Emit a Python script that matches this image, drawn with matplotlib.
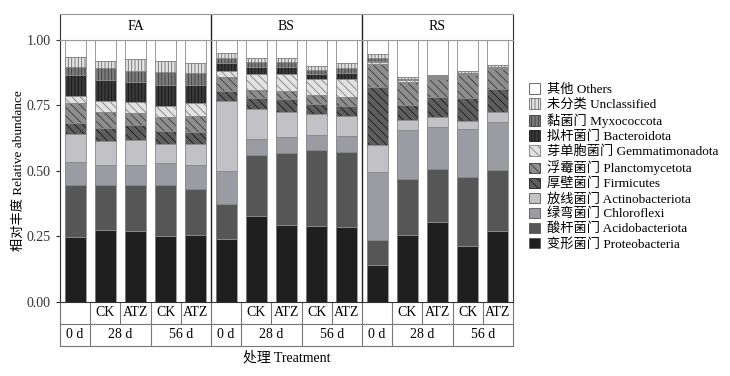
import matplotlib.pyplot as plt
from matplotlib.patches import Patch
from matplotlib.transforms import blended_transform_factory
import numpy as np

plt.rcParams['font.family'] = ['Liberation Serif', 'Noto Sans CJK SC']
plt.rcParams['hatch.linewidth'] = 0.6

sites = ['FA', 'BS', 'RS']
treat = ['', 'CK', 'ATZ', 'CK', 'ATZ']
days = ['0 d', '28 d', '56 d']

phyla = ['变形菌门 Proteobacteria', '酸杆菌门 Acidobacteriota', '绿弯菌门 Chloroflexi',
         '放线菌门 Actinobacteriota', '厚壁菌门 Firmicutes', '浮霉菌门 Planctomycetota',
         '芽单胞菌门 Gemmatimonadota', '拟杆菌门 Bacteroidota', '黏菌门 Myxococcota',
         '未分类 Unclassified', '其他 Others']

# 15 bars: FA(0d, 28d CK, 28d ATZ, 56d CK, 56d ATZ), BS(...), RS(...)
proteo = [.249, .275, .271, .253, .256, .239, .326, .294, .288, .285, .142, .256, .304, .214, .271]
acido = [.198, .172, .176, .194, .174, .135, .233, .273, .290, .288, .095, .212, .202, .263, .233]
chloro = [.086, .075, .075, .082, .094, .125, .062, .063, .058, .061, .258, .188, .161, .182, .182]
actino = [.107, .093, .096, .075, .080, .269, .116, .096, .082, .077, .104, .039, .040, .033, .040]
firmi = [.044, .049, .058, .049, .046, .037, .040, .048, .038, .035, .220, .057, .074, .087, .086]
plancto = [.074, .059, .044, .054, .060, .055, .032, .031, .034, .035, .089, .089, .070, .085, .076]
gemma = [.028, .042, .043, .039, .050, .023, .061, .065, .060, .069, .007, .004, .004, .004, .004]
bactero = [.078, .082, .077, .083, .069, .028, .028, .028, .019, .025, .004, .002, .003, .003, .004]
myxo = [.032, .045, .042, .048, .044, .019, .018, .019, .016, .019, .011, .004, .003, .004, .002]
uncl = [.038, .029, .044, .043, .038, .019, .014, .013, .015, .019, .015, .007, .005, .007, .007]
others = [.066, .079, .074, .080, .089, .051, .070, .070, .100, .087, .055, .142, .134, .118, .095]

data = [proteo, acido, chloro, actino, firmi, plancto, gemma, bactero, myxo, uncl, others]

# face colour, hatch, hatch colour
styles = [('#1f1f1f', None, '#1f1f1f'),
          ('#565656', None, '#565656'),
          ('#9b9ba3', None, '#9b9ba3'),
          ('#c2c2c6', None, '#c2c2c6'),
          ('#5e5e5e', '\\\\\\\\', '#1a1a1a'),
          ('#8e8e8e', '\\\\\\\\', '#3a3a3a'),
          ('#e2e2e2', '\\\\\\\\', '#808080'),
          ('#3a3a3a', '|||||', '#141414'),
          ('#7c7c7c', '|||||', '#3c3c3c'),
          ('#e4e4e4', '|||||', '#6a6a6a'),
          ('white', None, 'white')]

fig = plt.figure(figsize=(7.3, 3.76), dpi=100)
left, bottom, width, height = 0.0822, 0.197, 0.6205, 0.697
ax = fig.add_axes([left, bottom, width, height])

x = np.arange(15)
base = np.zeros(15)
handles = []
for vals, (fc, h, hc), name in zip(data, styles, phyla):
    vals = np.array(vals)
    ax.bar(x, vals, 0.7, bottom=base, color=fc, edgecolor=hc, hatch=h, linewidth=0)
    ax.bar(x, vals, 0.7, bottom=base, color='none', edgecolor='#8a8a8a', linewidth=0.6)
    base += vals
    handles.append(Patch(facecolor=fc, edgecolor=hc if h else '#555555', hatch=h,
                         linewidth=0.6, label=name))

ax.set_xlim(-0.5, 14.5)
ax.set_ylim(0, 1.0)
ax.set_yticks([0, 0.25, 0.5, 0.75, 1.0])
ax.set_yticklabels(['0.00', '0.25', '0.50', '0.75', '1.00'], fontsize=10)
ax.set_xticks([])
ax.tick_params(axis='y', direction='out', length=3, width=0.8, colors='#333333')
for s in ['left', 'right', 'bottom']:
    ax.spines[s].set_color('#333333')
    ax.spines[s].set_linewidth(0.8)
ax.spines['top'].set_color('#999999')
for b in [4.5, 9.5]:
    ax.axvline(b, color='#222222', lw=1.0)

# table under the bars
tr = blended_transform_factory(ax.transData, ax.transAxes)
r1, r2 = -0.084, -0.168
lc = '#777777'
ax.plot([-0.5, 14.5], [r1, r1], color=lc, lw=0.8, transform=tr, clip_on=False)
ax.plot([-0.5, 14.5], [r2, r2], color=lc, lw=0.8, transform=tr, clip_on=False)
ax.plot([-0.5, -0.5], [0, r2], color=lc, lw=0.8, transform=tr, clip_on=False)
ax.plot([14.5, 14.5], [0, r2], color=lc, lw=0.8, transform=tr, clip_on=False)
for k in range(14):
    ax.plot([k + 0.5, k + 0.5], [0, r1], color=lc, lw=0.8, transform=tr, clip_on=False)
for p in range(3):
    for e in [0.5, 2.5, 4.5]:
        if p * 5 + e < 14.5:
            ax.plot([p * 5 + e] * 2, [r1, r2], color=lc, lw=0.8, transform=tr, clip_on=False)
    for j, t in enumerate(treat):
        ax.text(p * 5 + j, r1 / 2, t, transform=tr, ha='center', va='center', fontsize=10)
    for xd, d in zip([0, 1.5, 3.5], days):
        ax.text(p * 5 + xd, (r1 + r2) / 2, d, transform=tr, ha='center', va='center', fontsize=10)

# strip with site names
ax_s = fig.add_axes([left, bottom + height, width, 0.069])
ax_s.set_xlim(-0.5, 14.5)
ax_s.set_ylim(0, 1)
ax_s.set_xticks([])
ax_s.set_yticks([])
for s in ['left', 'right']:
    ax_s.spines[s].set_color('#333333')
for s in ['top', 'bottom']:
    ax_s.spines[s].set_color('#999999')
for b in [4.5, 9.5]:
    ax_s.axvline(b, color='#222222', lw=1.0)
for p, s in enumerate(sites):
    ax_s.text(p * 5 + 2, 0.5, s, ha='center', va='center', fontsize=10)

fig.text(0.025, 0.545, '相对丰度 Relative abundance', rotation=90, ha='center', va='center', fontsize=9.5)
fig.text(0.393, 0.048, '处理 Treatment', ha='center', va='center', fontsize=10)

fig.legend(handles=handles[::-1], loc='center left', bbox_to_anchor=(0.718, 0.556),
           frameon=False, fontsize=9.5, handlelength=0.8, handleheight=0.8,
           handletextpad=0.5, labelspacing=0.18, borderaxespad=0)

plt.savefig('out.png', dpi=100)
